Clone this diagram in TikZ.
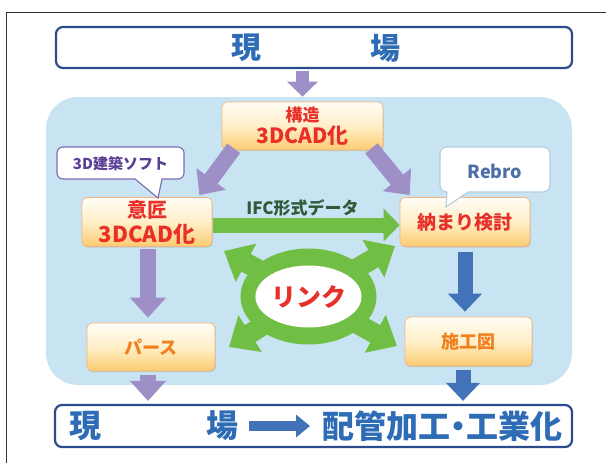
\documentclass[tikz,border=0pt]{standalone}
\usepackage{fontspec}
\newfontfamily\jp{Noto Sans CJK JP}
\usetikzlibrary{arrows.meta,calc,shapes.geometric,shadows}
\definecolor{navy}{HTML}{2B4C8C}
\definecolor{titleblue}{HTML}{2E6CB5}
\definecolor{bgblue}{HTML}{C8E4F3}
\definecolor{boxtop}{HTML}{FFFDF6}
\definecolor{boxmid}{HTML}{FFEFC8}
\definecolor{boxbot}{HTML}{FCCB70}
\definecolor{boxedge}{HTML}{F2B47C}
\definecolor{redtxt}{HTML}{E8302A}
\definecolor{orangetxt}{HTML}{F07F1E}
\definecolor{parrow}{HTML}{9F8FC7}
\definecolor{barrow}{HTML}{4272B8}
\definecolor{lgreen}{HTML}{70BF44}
\definecolor{ifctxt}{HTML}{2F5B3A}
\definecolor{softtxt}{HTML}{5A3F97}
\definecolor{softedge}{HTML}{7D6AB2}
\definecolor{rebrotxt}{HTML}{4D6EA6}
\definecolor{rebroedge}{HTML}{B4CCE0}
\definecolor{framegray}{HTML}{333333}
\newcommand\halfdot{\makebox[16pt]{・}}
\begin{document}
\begin{tikzpicture}[x=1pt,y=-1pt,
  titlebox/.style={draw=navy, line width=2.2pt, rounded corners=7pt, fill=white,
    minimum width=516pt, minimum height=41pt, inner sep=0pt},
  titletxt/.style={text=titleblue, inner sep=0pt, font=\jp\bfseries\fontsize{30}{32}\selectfont},
  cad/.style={draw=boxedge, line width=0.7pt, rounded corners=5pt,
    top color=boxtop, bottom color=boxbot, middle color=boxmid,
    inner sep=0pt, align=center, text=redtxt,
    drop shadow={shadow xshift=0.8pt, shadow yshift=-1.2pt, opacity=0.25}},
  parr/.style={draw=parrow, line width=16pt, -{Triangle[width=35pt,length=20pt]}},
  parrsmall/.style={draw=parrow, line width=13pt, -{Triangle[width=30pt,length=15pt]}},
  barr/.style={draw=barrow, line width=15pt, -{Triangle[width=33pt,length=18pt]}},
  garr/.style={draw=lgreen, line width=15pt, -{Triangle[width=32pt,length=16pt]}},
  ghead/.style={draw=lgreen, line width=20pt, -{Triangle[width=42pt,length=25pt]}},
]
\useasboundingbox (0,0) rectangle (606,463);
\fill[white] (0,0) rectangle (606,463);
% frame
\draw[framegray, line width=1pt] (6,463) -- (6,12) -- (606,12);
% light blue area
\fill[bgblue, rounded corners=32pt] (46,97) rectangle (572,385);

% boxes
\node[cad, minimum width=161pt, minimum height=48pt, font=\jp\bfseries\fontsize{21}{22}\selectfont] (kozo) at (302.5,126)
  {{\fontsize{17}{22}\selectfont 構造}\\3DCAD化};
\node[cad, minimum width=130pt, minimum height=49pt, font=\jp\bfseries\fontsize{22}{25}\selectfont] (isho) at (147,222)
  {{\fontsize{20}{25}\selectfont 意匠}\\3DCAD化};
\node[cad, minimum width=130pt, minimum height=49pt, font=\jp\bfseries\fontsize{19}{22}\selectfont] (osamari) at (465,222)
  {納まり検討};
\node[cad, minimum width=128pt, minimum height=48pt, text=orangetxt, font=\jp\bfseries\fontsize{18}{20}\selectfont] (pars) at (151,347)
  {パース};
\node[cad, minimum width=127pt, minimum height=49pt, text=orangetxt, font=\jp\bfseries\fontsize{18}{20}\selectfont] (sekou) at (468.5,341.5)
  {施工図};

% title boxes
\node[titlebox] (top) at (314,47.5) {};
\node[titletxt] (gen1) at (246,48) {現};
\node[titletxt] (ba1) at (385,48) {場};
\node[titlebox, minimum width=517pt, minimum height=42pt] (bot) at (313.5,426) {};
\node[titletxt, font=\jp\bfseries\fontsize{32}{34}\selectfont] (gen2) at (85,426) {現};
\node[titletxt, font=\jp\bfseries\fontsize{32}{34}\selectfont] (ba2) at (222,426) {場};
\node[titletxt, font=\jp\bfseries\fontsize{32}{34}\selectfont, anchor=west] (kako) at (322,426)
  {配管加工\halfdot 工業化};
\draw[draw=barrow, line width=10pt, -{Triangle[width=22pt,length=14pt]}, shorten <=11pt, shorten >=12pt] (ba2) -- (kako.west);

% purple arrows
\draw[parrsmall] ($(kozo.north |- top.south)+(0,2)$) -- ($(kozo.north)+(0,-5)$);
\draw[parr] ($(kozo.south west)+(12,-2)$) -- ($(isho.north east)+(-13,-2)$);
\draw[parr] ($(kozo.south east)+(-12,-2)$) -- ($(osamari.north west)+(10,-2)$);
\draw[parr] ($(isho.south)+(1,2)$) -- ($(pars.north)+(-3,-5)$);
\draw[parr] ($(pars.south)+(-3,4)$) -- ($(pars.south |- bot.north)+(-3,-3)$);
% blue arrows
\draw[barr] ($(osamari.south)+(0,5)$) -- ($(sekou.north)+(-3.5,-5)$);
\draw[barr] ($(sekou.south)+(-5.5,4)$) -- ($(sekou.south |- bot.north)+(-5.5,-3)$);
% IFC arrow
\draw[garr] ($(isho.east)+(1,3)$) -- ($(osamari.west)+(0,3)$);
\node[text=ifctxt, font=\jp\bfseries\fontsize{17}{19}\selectfont, inner sep=0pt] (ifc) at (302.5,208) {IFC形式データ};

% link ring
\node[ellipse, fill=lgreen, minimum width=136pt, minimum height=96pt, inner sep=0pt] (ring) at (308.5,296.5) {};
\coordinate (tUL) at (224,251);
\coordinate (tUR) at (395,246);
\coordinate (tLL) at (229,347);
\coordinate (tLR) at (397,346);
\foreach \t in {tUL,tUR,tLL,tLR} \draw[ghead] ($(ring.center)!0.45!(\t)$) -- (\t);
\node[ellipse, fill=white, minimum width=84pt, minimum height=62pt, inner sep=0pt,
  text=redtxt, font=\jp\bfseries\fontsize{25}{27}\selectfont] (link) at (ring.center) {リンク};

% callouts
\draw[softedge, line width=1.1pt, fill=white] (135,179) [rounded corners=6pt] -- (57,179) -- (57,147) -- (184,147) -- (184,179) [sharp corners] -- (162,179) -- (158,198) -- cycle;
\node[text=softtxt, font=\jp\bfseries\fontsize{15}{17}\selectfont, inner sep=0pt] (soft) at (120.5,164) {3D建築ソフト};
\draw[rebroedge, line width=1.1pt, fill=white] (468,192) -- (446,207) -- (447,192) [rounded corners=7pt] -- (440,192) -- (440,147) -- (550,147) -- (550,192) [sharp corners] -- cycle;
\node[text=rebrotxt, font=\jp\bfseries\fontsize{18}{20}\selectfont, inner sep=0pt] (rebro) at (495,171) {Rebro};
\end{tikzpicture}
\end{document}
